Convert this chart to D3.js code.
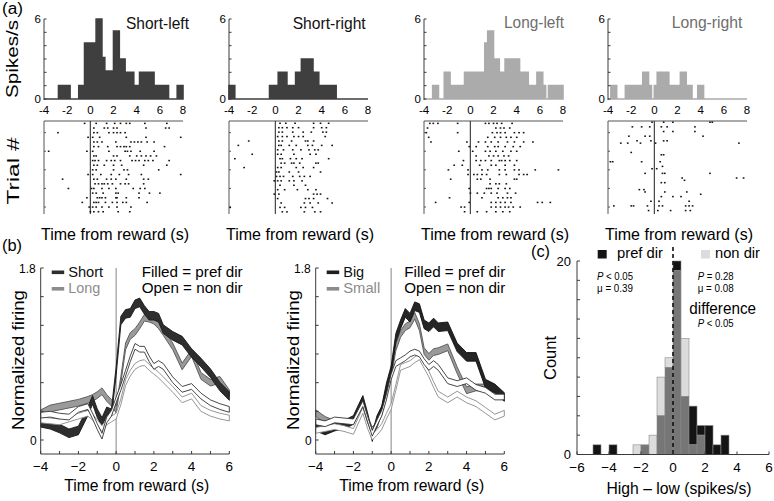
<!DOCTYPE html>
<html><head><meta charset="utf-8">
<script src="https://cdn.jsdelivr.net/npm/d3@7"></script>
<style>body{margin:0;background:#fff}svg{display:block}text{font-family:"Liberation Sans",Arial,Helvetica,sans-serif}</style>
</head><body><svg id="chart" width="774" height="501"></svg>
<script>
// ---------------- DATA ----------------
// (a) PSTH histograms, 0.25 s bins starting at -4 s (spikes/s)
const histBinStart = -4, histBinWidth = 0.25;
const histShortLeft  = [0,0,0,0,0,1,1,1,1,0,0,0,1,1,4.2,4.2,4.2,4.2,6,6,3.1,2.1,2.1,2.1,5.1,5.1,3,3,2,2,2,1,1,2,2,2,2,2,1,1,1,1,1,0,0,0,1,1];
const histShortRight = [1,1,0,0,0,0,0,0,0,0,0,0,0,0,1,1,1,2,2,2,1,1,1,2,2,3,3,3,3,2,2,1,1,1,1,1,1,0,0,0,0,0,0,0,0,0,0,0];
const histLongLeft   = [0,0,0,1,1,0,0,2,2,1,1,1,1,1,2,2,2,2,2,2,2,4.2,5.1,5.1,3,3,2,2,3,3,3,3,3,2,2,2,1,1,1,2,2,1,0,1,1,1,1,1];
const histLongRight  = [0,1,1,0,0,0,1,1,1,1,1,1,2,2,1,0,1,2,2,2,2,1,1,1,1,2,2,1,1,0,0,1,1,0,0,0,0,0,0,0,0,0,0,0,0,0,0,0];
const histTitles = ["Short-left","Short-right","Long-left","Long-right"];
const histXTicks = [-4,-2,0,2,4,6,8];

// (a) rasters: spike times (s) per trial row
const rasterShortLeft = [
 [-0.5,0.5,1.4,2.1,2.6,3.1,3.4,4.7,6.6],[0.3,1.2,1.5,2.0,2.3,4.8,6.5,6.8],
 [-2.8,0.3,0.6,1.6,2.0,2.3,2.6,3.0],[-0.2,0.2,0.8,3.1,4.8,7.8],
 [0.3,0.6,1.0,2.2,3.5,3.8,4.1,4.4,4.9,5.5],[0.3,0.7,1.5,2.3,2.6,2.9,3.1,3.4,6.4],
 [-3.6,-0.3,0.2,1.6,3.0,3.2,3.5,4.3,5.5],[0.3,0.5,2.0,2.3,3.4,4.0,4.4,4.8,5.2,5.7],
 [0.2,0.4,0.7,1.4,1.8,2.1,2.6,3.6,3.9,4.2,4.7,5.0,5.4,6.8],[0.3,0.6,1.2,2.0,2.7,4.6,6.6],
 [0.2,0.5,2.0,2.9,3.2,5.9],[-0.2,0.2,0.9,1.8,2.5,3.3,4.4,7.8],
 [-2.4,0.3,0.6,1.4,1.8,2.2,3.1,4.6,5.0],[0.4,0.7,1.0,1.2,1.5,1.9,2.6,3.0,3.3,4.6],
 [-1.9,0.1,0.3,1.0,1.6,2.2,3.7,4.3,4.7],[0.2,0.5,1.1,2.2,2.4,4.2,5.1,6.0],
 [-0.3,0.6,0.8,1.0,1.3,2.2,2.3,3.1,4.2],[-0.7,0.3,0.5,0.7,1.3,1.9,2.3,2.8,3.1,4.9],
 [-0.1,0.2,0.5,1.0,1.6,2.3,3.5],[0.0,0.3,0.7,1.1,2.4,3.4]
];
const rasterShortRight = [
 [0.4,0.9,1.7,3.3,3.9,4.6],[0.3,0.6,1.0,1.5,2.0,3.3,4.0,4.4],[0.3,0.6,1.5,2.4,3.1,4.1,4.4],
 [0.2,0.6,1.0,1.6,2.0,2.4,4.3],[-2.3,0.3,0.6,1.4,2.6,2.8,3.3],[-3.2,0.3,0.5,1.2,1.8,2.8,3.2,4.0,4.9],
 [0.2,0.7,1.5,2.2,2.9,3.4,3.7],[-2.0,0.2,0.5,1.6,3.0,3.5],[-3.5,0.4,0.6,1.3,1.8,2.3,4.6],
 [0.5,0.8,1.4,1.6,2.1,3.5,3.7],[-2.7,0.2,0.5,1.8,2.4,3.3],[0.1,0.3,1.2,2.0,3.9],
 [0.1,0.4,0.7,1.5,2.1,2.5,3.0],[-0.1,0.2,0.5,1.2,1.6,2.3],[0.4,1.6,2.6],
 [0.2,0.8,1.9,2.8,3.5],[-0.1,0.3,3.3,3.6,3.9],[0.2,2.6,2.9,3.3,4.5],
 [0.5,2.5,3.0,3.7,4.9],[-3.9,0.4,0.8,2.2,2.6,3.2],[0.6,1.0,2.5,3.4,3.9]
];
const rasterLongLeft = [
 [-3.5,-3.2,-2.8,-1.1,1.3,1.6,2.0,2.3,2.7,3.6],[-3.7,2.2,2.6,2.9,3.4],
 [-3.8,-1.1,1.9,2.3,2.6,3.0,3.8,4.2,4.6],[-3.6,1.5,2.1,2.6,3.1,3.5,4.0],
 [-3.4,-0.3,0.7,1.3,1.8,2.4,3.2,3.8,4.6,5.4],[-0.1,0.5,1.5,2.1,2.4,3.0,3.7,4.3],
 [-1.0,0.2,1.3,1.7,2.2,2.8,3.5,4.0],[0.5,1.6,2.0,2.4,2.9,3.3],
 [-0.6,0.5,0.9,1.3,1.8,2.5,2.7,3.0,3.4,4.0],[-1.4,-0.7,0.8,1.8,2.2,3.0,3.8],
 [-1.9,-0.2,1.0,1.5,2.5,3.0,3.8,4.2,5.6,7.6],[-0.2,0.3,0.6,1.0,1.4,2.5,3.1,4.2,4.6,4.9],
 [-1.7,0.6,0.9,1.7,3.8,4.0],[1.7,2.2,2.5,3.1],[-0.1,1.4,1.6,1.8,2.4,3.0,3.4],
 [0.0,0.6,1.2,1.8,2.3,3.2,3.9],[-1.8,1.0,2.4,2.8,3.2,3.5],
 [-3.0,-0.1,1.8,2.2,2.6,3.0,3.5,5.8,6.2,6.9],[-0.8,-0.5,1.8,2.2,2.6,3.0,3.3,3.7,4.3],
 [-0.5,0.6,1.4,2.2,2.8,3.4]
];
// long-right: [trial index (of 40), spike times]
const rasterLongRight = [
 [0,[-0.2,0.8,1.6,4.8,5.0]],[2,[-1.9,-1.1,-0.4,0.6,1.1,3.5]],[4,[0.8,1.6,3.5]],
 [6,[-2.2,-0.8,-0.4,4.2]],[8,[-1.5,-0.3,0.8,1.1]],[9,[-2.9,-2.3,-1.2,0.1,7.3]],
 [13,[-2.0]],[14,[0.6,0.8]],[17,[-3.8,-3.6,-1.1,0.5]],[19,[0.7]],[20,[-0.2,0.2]],
 [22,[-0.8,0.7,0.9,4.8]],[24,[2.4,7.1,7.7]],[25,[2.6]],[26,[0.6,0.9]],
 [29,[-1.3,-0.9]],[30,[-0.8,0.9,2.8]],[31,[4.0]],[32,[0.6,1.6,2.3]],
 [34,[-0.3,0.4,3.0]],[36,[-3.5,-2.0,-1.8,-0.6,0.4,0.7,2.7,3.0,3.3]],[38,[-0.5,0.3,1.4,2.7,3.1]]
];
const rasterTrials = 40;

// (b) population curves (normalized firing)
const bTime = [-4,-3.5,-3,-2.5,-2,-1.5,-1.25,-1,-0.75,-0.5,-0.25,0,0.25,0.5,0.75,1,1.25,1.5,1.75,2,2.25,2.5,3,3.5,4,4.5,5,5.5,6];
const shortPref = [0.18,0.16,0.12,0.07,0.10,0.30,0.42,0.28,0.19,0.30,0.28,0.72,1.25,1.32,1.33,1.42,1.44,1.36,1.30,1.30,1.28,1.16,1.09,1.04,0.91,0.81,0.70,0.56,0.46];
const longPref  = [0.28,0.33,0.35,0.37,0.39,0.42,0.44,0.47,0.51,0.44,0.39,0.32,0.63,0.98,1.09,1.13,1.20,1.28,1.27,1.25,1.20,1.13,0.98,0.77,0.91,0.67,0.60,0.63,0.49];
const shortNon  = [0.26,0.27,0.25,0.24,0.32,0.35,0.25,0.14,0.04,0.21,0.28,0.42,0.55,0.70,0.85,0.98,0.95,0.95,0.85,0.77,0.80,0.77,0.63,0.53,0.56,0.46,0.39,0.35,0.32];
const longNon   = [0.21,0.20,0.19,0.22,0.25,0.28,0.24,0.18,0.12,0.19,0.22,0.25,0.40,0.60,0.70,0.77,0.80,0.81,0.76,0.72,0.68,0.63,0.53,0.42,0.46,0.33,0.28,0.25,0.23];
const bigPref   = [0.14,0.10,0.14,0.16,0.21,0.42,0.24,0.03,0.21,0.31,0.55,0.73,1.07,1.21,1.33,1.28,1.40,1.38,1.21,1.18,1.23,1.18,1.19,0.97,0.87,0.87,0.59,0.54,0.45];
const smallPref = [0.28,0.21,0.17,0.16,0.21,0.38,0.21,0.10,0.16,0.31,0.52,0.69,0.97,1.11,1.18,1.21,1.30,1.18,0.93,0.87,0.92,0.93,0.97,0.73,0.52,0.55,0.55,0.50,0.45];
const bigNon    = [0.19,0.17,0.21,0.20,0.19,0.38,0.22,0.07,0.18,0.28,0.45,0.66,0.80,0.83,0.86,0.90,0.92,0.90,0.82,0.76,0.80,0.76,0.62,0.59,0.62,0.55,0.52,0.45,0.45];
const smallNon  = [0.10,0.12,0.14,0.12,0.09,0.31,0.15,0.03,0.08,0.14,0.25,0.35,0.55,0.76,0.78,0.80,0.84,0.87,0.78,0.69,0.58,0.48,0.42,0.48,0.42,0.38,0.31,0.24,0.28];
const semPref = 0.045, semPref2 = 0.035, semNon = 0.03;
const bXTicks = [-4,-2,0,2,4,6];

// (c) histogram of high - low differences
const cBinStarts = [-5,-4.5,-4,-3.5,-3,-2.5,-2,-1.5,-1,-0.5,0,0.5,1,1.5,2,2.5,3];
const cPref      = [1,0,1,0,0,0,1,0,4,9,20,6,5,3,3,1,2];
const cNon       = [0,0,0,0,0,1,1,2,8,10,19,12,1,2,0,0,0];
const cBinWidth = 0.5;
const cXTicks = [-6,-4,-2,0,2,4,6];

// ---------------- DRAW ----------------
const svg = d3.select("#chart");
const AX = "#3a3a3a";

function txt(sel, s, x, y, o = {}) {
  const t = sel.append("text").attr("x", x).attr("y", y)
    .attr("font-size", o.size || 12).attr("fill", o.color || "#000")
    .attr("text-anchor", o.anchor || "start");
  if (o.rot) t.attr("transform", `rotate(-90,${x},${y})`);
  if (o.italicFirst) {
    t.append("tspan").attr("font-style", "italic").text(o.italicFirst);
    t.append("tspan").text(s);
  } else t.text(s);
  if (o.width) t.attr("textLength", o.width).attr("lengthAdjust", "spacingAndGlyphs");
  return t;
}
function line(sel, x1, y1, x2, y2, c = AX, w = 1, dash) {
  const l = sel.append("line").attr("x1", x1).attr("y1", y1).attr("x2", x2).attr("y2", y2)
    .attr("stroke", c).attr("stroke-width", w);
  if (dash) l.attr("stroke-dasharray", dash);
  return l;
}

// ---- (a) ----
const aLeft = [44, 229, 424, 608], aW = 139;
const histData = [histShortLeft, histShortRight, histLongLeft, histLongRight];
const histColor = ["#3f3f3f", "#3f3f3f", "#ababab", "#ababab"];
const titleColor = ["#111", "#111", "#6e6e6e", "#6e6e6e"];
const titlePos = [[126, 29, 63], [292.7, 29, 73], [504, 28, 60], [671.7, 28, 70.7]];
const rasters = [
  rasterShortLeft.map((r, i, a) => [(i + 0.5) * rasterTrials / a.length, r]),
  rasterShortRight.map((r, i, a) => [(i + 0.5) * rasterTrials / a.length, r]),
  rasterLongLeft.map((r, i, a) => [(i + 0.5) * rasterTrials / a.length, r]),
  rasterLongRight.map(d => [d[0] + 0.5, d[1]])
];
const hTop = 19, hBase = 99, rTop = 121, rBot = 214;

txt(svg, "(a)", 2, 14, { size: 16, width: 21 });
txt(svg, "Spikes/s", 18, 59, { size: 16, rot: true, anchor: "middle", width: 78 });
txt(svg, "Trial #", 19, 171, { size: 17, rot: true, anchor: "middle", width: 67 });

histData.forEach((h, k) => {
  const x0 = aLeft[k];
  const xs = d3.scaleLinear().domain([-4, 8]).range([x0, x0 + aW]);
  const ys = d3.scaleLinear().domain([0, 6]).range([hBase, hTop]);
  const g = svg.append("g");
  const pts = [];
  h.forEach((v, i) => {
    const a = histBinStart + i * histBinWidth;
    pts.push([a, v], [a + histBinWidth, v]);
  });
  const area = d3.area().x(d => xs(d[0])).y0(ys(0)).y1(d => ys(d[1]));
  g.append("path").attr("d", area(pts)).attr("fill", histColor[k])
    .attr("stroke", histColor[k]).attr("stroke-width", 1.6);
  // y axis
  line(g, x0, ys(6), x0, ys(0) + 1);
  d3.range(0, 7).forEach(v => line(g, x0, ys(v), x0 + 2.5, ys(v)));
  txt(g, "6", x0 - 3, ys(6) + 4, { size: 11.5, anchor: "end" });
  txt(g, "0", x0 - 3, ys(0) + 4, { size: 11.5, anchor: "end" });
  histXTicks.forEach(t => txt(g, String(t), xs(t), 114, { size: 11.5, anchor: "middle" }));
  const tp = titlePos[k];
  txt(g, histTitles[k], tp[0], tp[1], { size: 17, color: titleColor[k], width: tp[2] });

  // raster
  const ry = d3.scaleLinear().domain([0, rasterTrials]).range([rTop, rBot]);
  line(g, x0, rTop, x0 + aW, rTop, "#555", 1);
  line(g, x0, rTop, x0, rBot, "#555", 1);
  [5, 13, 21, 29, 37].forEach(t => line(g, x0, ry(t), x0 + 2, ry(t), "#555", 1));
  line(g, xs(0), rTop, xs(0), rBot, "#333", 1.1);
  rasters[k].forEach(([tr, times]) => {
    g.selectAll(null).data(times).enter().append("rect")
      .attr("x", t => xs(t) - 0.8).attr("y", ry(tr) - 0.7)
      .attr("width", 1.7).attr("height", 1.5).attr("fill", "#111");
  });
  txt(g, "Time from reward (s)", x0 - 3, 240, { size: 17, width: 148 });
});

// ---- (b) ----
function psth(x0, series, legend) {
  const g = svg.append("g");
  const xs = d3.scaleLinear().domain([-4, 6]).range([x0, x0 + 188.6]);
  const ys = d3.scaleLinear().domain([0, 1.8]).range([440, 268]);
  const yAx = 454;
  line(g, xs(0), ys(1.8), xs(0), yAx, "#999", 1.2);
  series.forEach(s => {
    const area = d3.area().x((d, i) => xs(bTime[i]))
      .y0(d => ys(d - s.sem)).y1(d => ys(d + s.sem));
    g.append("path").attr("d", area(s.values)).attr("fill", s.fill)
      .attr("stroke", s.stroke).attr("stroke-width", 0.9).attr("stroke-linejoin", "round");
  });
  line(g, x0, ys(1.8), x0, yAx, AX);
  line(g, x0, yAx, xs(6), yAx, AX);
  d3.range(0, 7).forEach(i => line(g, x0, ys(i * 0.3), x0 + 3, ys(i * 0.3), AX));
  d3.range(-4, 7).forEach(t => line(g, xs(t), yAx, xs(t), yAx - 3, AX));
  txt(g, "1.8", x0 - 5, ys(1.8) + 5, { size: 12, anchor: "end" });
  txt(g, "0", x0 - 4, ys(0) + 5, { size: 12, anchor: "end" });
  bXTicks.forEach(t => txt(g, t < 0 ? "\u2212" + Math.abs(t) : String(t), xs(t), 471, { size: 13.5, anchor: "middle" }));
  txt(g, "Normalized firing", x0 - 17, 360, { size: 17, rot: true, anchor: "middle", width: 140 });
  txt(g, "Time from reward (s)", x0 + 96, 491, { size: 16, anchor: "middle", width: 145 });
  // legend
  const lx = x0 + 11;
  g.append("rect").attr("x", lx).attr("y", 270.5).attr("width", 12.5).attr("height", 3.6).attr("fill", legend[0][1]);
  g.append("rect").attr("x", lx).attr("y", 287).attr("width", 12.5).attr("height", 3.6).attr("fill", legend[1][1]);
  txt(g, legend[0][0], lx + 16.5, 277, { size: 14, color: legend[0][2], width: legend[0][3] });
  txt(g, legend[1][0], lx + 16.5, 293, { size: 14, color: legend[1][2], width: legend[1][3] });
  txt(g, "Filled = pref dir", legend[2], 277, { size: 14, width: 101 });
  txt(g, "Open = non dir", legend[2], 293, { size: 14, width: 101 });
}
psth(40.7, [
  { values: longPref, sem: semPref2, fill: "#9a9a9a", stroke: "#555" },
  { values: shortPref, sem: semPref, fill: "#2e2e2e", stroke: "#1a1a1a" },
  { values: longNon, sem: semNon, fill: "#fff", stroke: "#8a8a8a" },
  { values: shortNon, sem: semNon, fill: "#fff", stroke: "#333" }
], [["Short", "#2e2e2e", "#111", 35], ["Long", "#8c8c8c", "#8c8c8c", 32], 141.7]);
psth(315.7, [
  { values: smallPref, sem: semPref2, fill: "#9a9a9a", stroke: "#555" },
  { values: bigPref, sem: semPref, fill: "#252525", stroke: "#111" },
  { values: smallNon, sem: semNon, fill: "#fff", stroke: "#8a8a8a" },
  { values: bigNon, sem: semNon, fill: "#fff", stroke: "#333" }
], [["Big", "#1e1e1e", "#111", 21], ["Small", "#8c8c8c", "#8c8c8c", 37], 404.3]);
txt(svg, "(b)", 2, 251, { size: 16, width: 20 });

// ---- (c) ----
{
  const g = svg.append("g");
  const xs = d3.scaleLinear().domain([-6, 6]).range([577, 769]);
  const ys = d3.scaleLinear().domain([0, 20]).range([454.5, 261]);
  cBinStarts.forEach((b, i) => {
    const p = cPref[i], n = cNon[i], lo = Math.min(p, n), hi = Math.max(p, n);
    const x = xs(b), w = xs(b + cBinWidth) - xs(b);
    if (hi > lo) g.append("rect").attr("x", x).attr("y", ys(hi)).attr("width", w).attr("height", ys(lo) - ys(hi))
      .attr("fill", p > n ? "#141414" : "#dcdcdc").attr("stroke", "#8a8a8a").attr("stroke-width", 0.6);
    if (lo > 0) g.append("rect").attr("x", x).attr("y", ys(lo)).attr("width", w).attr("height", ys(0) - ys(lo))
      .attr("fill", "#767676").attr("stroke", "#8a8a8a").attr("stroke-width", 0.6);
  });
  line(g, xs(0), 247, xs(0), ys(0), "#111", 1.6, "4,3");
  line(g, xs(-6), ys(0), xs(-6), ys(20), AX);
  line(g, xs(-6), ys(0), xs(6), ys(0), AX);
  d3.range(0, 21, 2).forEach(v => line(g, xs(-6), ys(v), xs(-6) + 3, ys(v), AX));
  cXTicks.forEach(t => {
    line(g, xs(t), ys(0), xs(t), ys(0) - 3, AX);
    txt(g, t < 0 ? "\u2212" + Math.abs(t) : String(t), xs(t), 472, { size: 13.5, anchor: "middle" });
  });
  txt(g, "20", xs(-6) - 6, ys(20) + 4.5, { size: 13, anchor: "end" });
  txt(g, "0", xs(-6) - 6, ys(0) + 4.5, { size: 13, anchor: "end" });
  txt(g, "(c)", 531, 257, { size: 16, width: 19 });
  g.append("rect").attr("x", 597.7).attr("y", 250).attr("width", 9).attr("height", 8.5).attr("fill", "#141414");
  txt(g, "pref dir", 617, 258, { size: 15, width: 46 });
  g.append("rect").attr("x", 701).attr("y", 250).attr("width", 9).attr("height", 8.5).attr("fill", "#dcdcdc");
  txt(g, "non dir", 715, 258, { size: 15, width: 45 });
  txt(g, " < 0.05", 597, 279.5, { size: 11, italicFirst: "P", width: 36 });
  txt(g, "\u03bc = 0.39", 597, 292, { size: 11, width: 36 });
  txt(g, " = 0.28", 697.7, 279.5, { size: 11, italicFirst: "P", width: 36 });
  txt(g, "\u03bc = 0.08", 697.7, 292, { size: 11, width: 36 });
  txt(g, "difference", 689.3, 314, { size: 16, width: 66.7 });
  txt(g, " < 0.05", 697.7, 327, { size: 11, italicFirst: "P", width: 36 });
  txt(g, "Count", 556, 358, { size: 16, rot: true, anchor: "middle", width: 44 });
  txt(g, "High \u2013 low (spikes/s)", 679, 494, { size: 16, anchor: "middle", width: 145 });
}
</script></body></html>
